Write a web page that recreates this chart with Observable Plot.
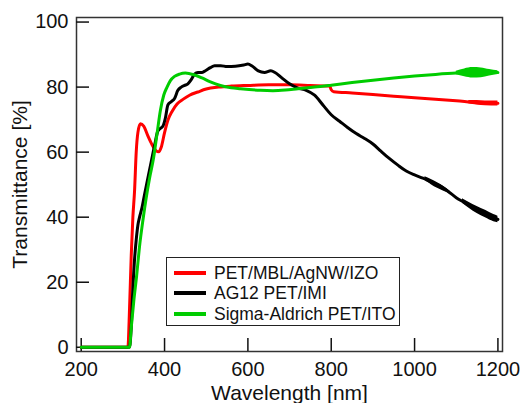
<!DOCTYPE html>
<html><head><meta charset="utf-8">
<script src="https://cdn.jsdelivr.net/npm/d3@7"></script>
<script src="https://cdn.jsdelivr.net/npm/@observablehq/plot@0.6"></script>
<style>
body{margin:0;background:#fff;}
#wrap{position:relative;width:530px;height:403px;font-family:"Liberation Sans",Arial,sans-serif;color:#111;}
#legend{position:absolute;left:166px;top:257px;width:232px;height:67px;border:1.5px solid #222;background:#fff;}
.sw{position:absolute;left:7px;width:32px;height:4px;}
.lbl{position:absolute;left:47px;font-size:17.5px;white-space:nowrap;line-height:20px;}
</style></head>
<body><div id="wrap"></div>
<script>
// ---- data ----
const seriesNames = ["PET/MBL/AgNW/IZO", "AG12 PET/IMI", "Sigma-Aldrich PET/ITO"];
const seriesColors = ["#ff0000", "#000000", "#00cc00"];
const xTicks = [200, 400, 600, 800, 1000, 1200];
const yTicks = [0, 20, 40, 60, 80, 100];

const redWl = [200, 312, 316, 320, 324, 328, 332, 336, 342, 350, 360, 370, 380, 386, 392, 400, 408, 418, 430, 445, 460, 480, 500, 530, 560, 600, 650, 700, 750, 796, 800, 806, 850, 900, 950, 1000, 1050, 1100, 1150, 1200];
const redT  = [0, 0, 12, 28, 40, 48, 60, 66, 68.7, 68, 65, 62.3, 60.4, 60.1, 61.5, 66, 69.8, 72.5, 74.8, 76.3, 77.5, 78.5, 79.4, 80, 80.3, 80.5, 80.7, 80.7, 80.5, 80.3, 79.2, 78.6, 78.2, 77.7, 77.2, 76.7, 76.3, 75.8, 75.2, 75];

const blackWl = [200, 316, 320, 324, 328, 332, 336, 340, 346, 352, 360, 368, 376, 384, 390, 396, 402, 408, 416, 424, 432, 440, 448, 456, 464, 472, 480, 490, 500, 510, 520, 535, 550, 570, 590, 600, 610, 625, 640, 655, 665, 680, 700, 720, 740, 760, 780, 800, 820, 840, 860, 880, 900, 920, 940, 960, 980, 1000, 1020, 1040, 1060, 1080, 1100, 1120, 1140, 1160, 1180, 1200];
const blackT  = [0, 0, 6, 18, 27, 33, 37.5, 40, 43, 47, 52, 57, 62, 66.5, 67.3, 68, 70.5, 74.5, 75.5, 76.5, 79, 80, 80.5, 81, 82.3, 84, 84.5, 84.5, 85.2, 86, 86.6, 86.6, 86.3, 86.4, 86.8, 87.1, 86.5, 85, 84.5, 85, 84.5, 83, 81, 79.7, 79, 77.5, 74.5, 71.5, 69.5, 67.5, 65.7, 64.2, 62.5, 60.2, 58, 56, 54.2, 53, 52, 50.8, 49.7, 48, 46, 44.5, 43, 41.8, 40.5, 39.3];

const greenWl = [200, 316, 320, 326, 333, 340, 348, 356, 364, 374, 382, 390, 398, 406, 414, 424, 436, 450, 470, 490, 510, 534, 560, 582, 630, 660, 690, 720, 760, 800, 850, 900, 950, 1000, 1050, 1100, 1150, 1200];
const greenT  = [0, 0, 6, 14, 22, 31, 39, 46, 52, 58.5, 65.7, 72.8, 77.5, 80, 82, 83.3, 84, 84.3, 83.8, 82.8, 81.6, 80.5, 79.8, 79.5, 79, 78.9, 79.1, 79.5, 80, 80.6, 81.4, 82.1, 82.8, 83.4, 83.9, 84.3, 84.5, 84.5];

// noisy envelopes at long wavelengths
const redBandWl = [1130, 1150, 1170, 1200];
const redBandLo = [74.9, 74.5, 74.3, 74.2];
const redBandHi = [75.9, 75.9, 75.7, 75.7];
const blackBand1Wl = [1025, 1040, 1055, 1070, 1085];
const blackBand1Lo = [51.4, 50.0, 48.9, 48.0, 47.2];
const blackBand1Hi = [52.4, 51.6, 50.6, 49.4, 48.0];
const blackBand2Wl = [1115, 1130, 1150, 1170, 1190, 1200];
const blackBand2Lo = [44.3, 42.8, 41.1, 39.8, 38.6, 38.3];
const blackBand2Hi = [45.7, 44.6, 43.3, 42.1, 40.8, 40.3];
const greenBandWl = [1100, 1120, 1140, 1160, 1180, 1200];
const greenBandLo = [83.8, 83.2, 82.8, 82.9, 83.4, 83.9];
const greenBandHi = [84.9, 85.6, 86.0, 85.9, 85.4, 85.0];

// ---- build tables ----
const toRows = (wl, t) => wl.map((w, i) => ({wl: w, t: t[i]}));
const toBand = (wl, lo, hi) => wl.map((w, i) => ({wl: w, lo: lo[i], hi: hi[i]}));
const series = [toRows(redWl, redT), toRows(blackWl, blackT), toRows(greenWl, greenT)];
const bands = [
  {rows: toBand(redBandWl, redBandLo, redBandHi), c: 0},
  {rows: toBand(blackBand1Wl, blackBand1Lo, blackBand1Hi), c: 1},
  {rows: toBand(blackBand2Wl, blackBand2Lo, blackBand2Hi), c: 1},
  {rows: toBand(greenBandWl, greenBandLo, greenBandHi), c: 2}
];

const W = 530, H = 403, mt = 17, mb = 52, ml = 76, mr = 28;
const plotW = W - ml - mr, plotH = H - mt - mb;
const font = '"Liberation Sans", Arial, sans-serif';

const marks = [
  Plot.frame({stroke: "#333", strokeWidth: 1.5}),
  Plot.tickX(xTicks, {x: d => d, insetTop: plotH - 13, stroke: "#111", strokeWidth: 1.5}),
  Plot.tickY(yTicks, {y: d => d, insetRight: plotW - 13, stroke: "#111", strokeWidth: 1.5}),
  Plot.axisX({ticks: xTicks, tickFormat: d => String(d), tickSize: 0, tickPadding: 10, label: null, fontSize: 20}),
  Plot.axisY({ticks: yTicks, tickFormat: d => String(d), tickSize: 0, tickPadding: 8, label: null, fontSize: 20}),
];
bands.forEach(b => marks.push(Plot.areaY(b.rows, {x: "wl", y1: "lo", y2: "hi", fill: seriesColors[b.c], curve: "monotone-x"})));
series.forEach((s, i) => marks.push(Plot.lineY(s, {x: "wl", y: "t", stroke: seriesColors[i], strokeWidth: 3, curve: "monotone-x"})));
marks.push(
  Plot.text(["Wavelength [nm]"], {frameAnchor: "bottom", lineAnchor: "middle", textAnchor: "middle", dy: 42, text: d => d, fontSize: 21, fill: "#111"}),
  Plot.text(["Transmittance [%]"], {frameAnchor: "left", lineAnchor: "middle", textAnchor: "middle", dx: -56, rotate: -90, text: d => d, fontSize: 21, fill: "#111"})
);

const chart = Plot.plot({
  width: W, height: H, marginTop: mt, marginBottom: mb, marginLeft: ml, marginRight: mr,
  style: {fontFamily: font, fontSize: "20px", color: "#111", background: "white", overflow: "visible"},
  x: {domain: [188.7, 1211]},
  y: {domain: [-1.3, 101.4]},
  marks
});
const wrap = document.getElementById("wrap");
wrap.appendChild(chart);

// legend
const leg = document.createElement("div");
leg.id = "legend";
const rowTops = [15, 35, 56];
seriesNames.forEach((n, i) => {
  const sw = document.createElement("div");
  sw.className = "sw";
  sw.style.top = (rowTops[i] - 2) + "px";
  sw.style.background = seriesColors[i];
  const lb = document.createElement("div");
  lb.className = "lbl";
  lb.style.top = (rowTops[i] - 10) + "px";
  lb.textContent = n;
  leg.appendChild(sw); leg.appendChild(lb);
});
wrap.appendChild(leg);
</script>
</body></html>
